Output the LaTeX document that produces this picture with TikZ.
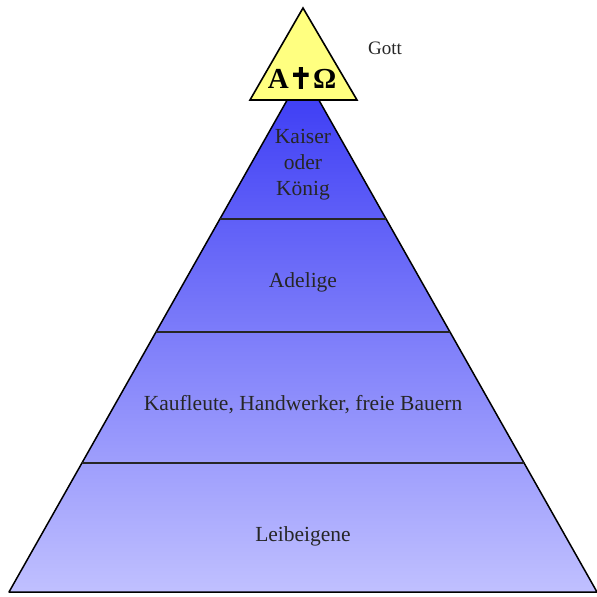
\documentclass[tikz,border=0pt]{standalone}
\usepackage{fontspec}
\setmainfont{Liberation Serif}
\newfontfamily\crossfont[FakeBold=2.5]{DejaVu Sans}
\usetikzlibrary{calc,positioning}
\definecolor{layertop}{RGB}{64,64,245}
\definecolor{layerbot}{RGB}{192,192,255}
\definecolor{godyellow}{RGB}{255,255,128}
\tikzset{
  layer/.style={draw=black, line width=1.5pt, line join=round},
  sep/.style={draw=black!85, line width=1.5pt},
  lbl/.style={align=center, font=\fontsize{21.5}{26}\selectfont, text=black!85, inner sep=0pt},
  godtri/.style={draw=black, line width=1.6pt, fill=godyellow, line join=miter},
}

\begin{document}
\begin{tikzpicture}[x=1pt, y=-1pt]
  \useasboundingbox (0,0) rectangle (597,597);
  % pyramid corners
  \coordinate (apex) at (303,72);
  \coordinate (bl) at (9,592);
  \coordinate (br) at (597,592);

  \begin{scope}
    \clip (apex) -- (bl) -- (br) -- cycle;
    \shade[top color=layertop, bottom color=layerbot] (0,100) rectangle (597,592);
  \end{scope}
  \draw[layer] (apex) -- (bl) -- (br) -- cycle;

  % class borders
  \draw[sep] ($(apex)!0.2827!(bl)$) -- ($(apex)!0.2827!(br)$);
  \draw[sep] ($(apex)!0.5!(bl)$) -- ($(apex)!0.5!(br)$);
  \draw[sep] ($(apex)!0.752!(bl)$) -- ($(apex)!0.752!(br)$);

  % god on top
  \coordinate (gtop) at (303,8);
  \coordinate (gl) at (250,100);
  \coordinate (gr) at (357,100);
  \draw[godtri] (gtop) -- (gl) -- (gr) -- cycle;
  \node[inner sep=0pt, font=\fontsize{29}{32}\selectfont\bfseries] (alphaomega) at (302,78)
    {A{\crossfont\fontsize{29}{32}\selectfont ✝}Ω};
  \node[lbl, font=\fontsize{19}{22}\selectfont] (gott) at (385,48) {Gott};

  \node[lbl] (kaiser) at (303,165) {Kaiser\\oder\\König};
  \node[lbl] (adel) at (303,282) {Adelige};
  \node[lbl] (kauf) at (303,405) {Kaufleute, Handwerker, freie Bauern};
  \node[lbl] (leib) at (303,536) {Leibeigene};
\end{tikzpicture}
\end{document}
